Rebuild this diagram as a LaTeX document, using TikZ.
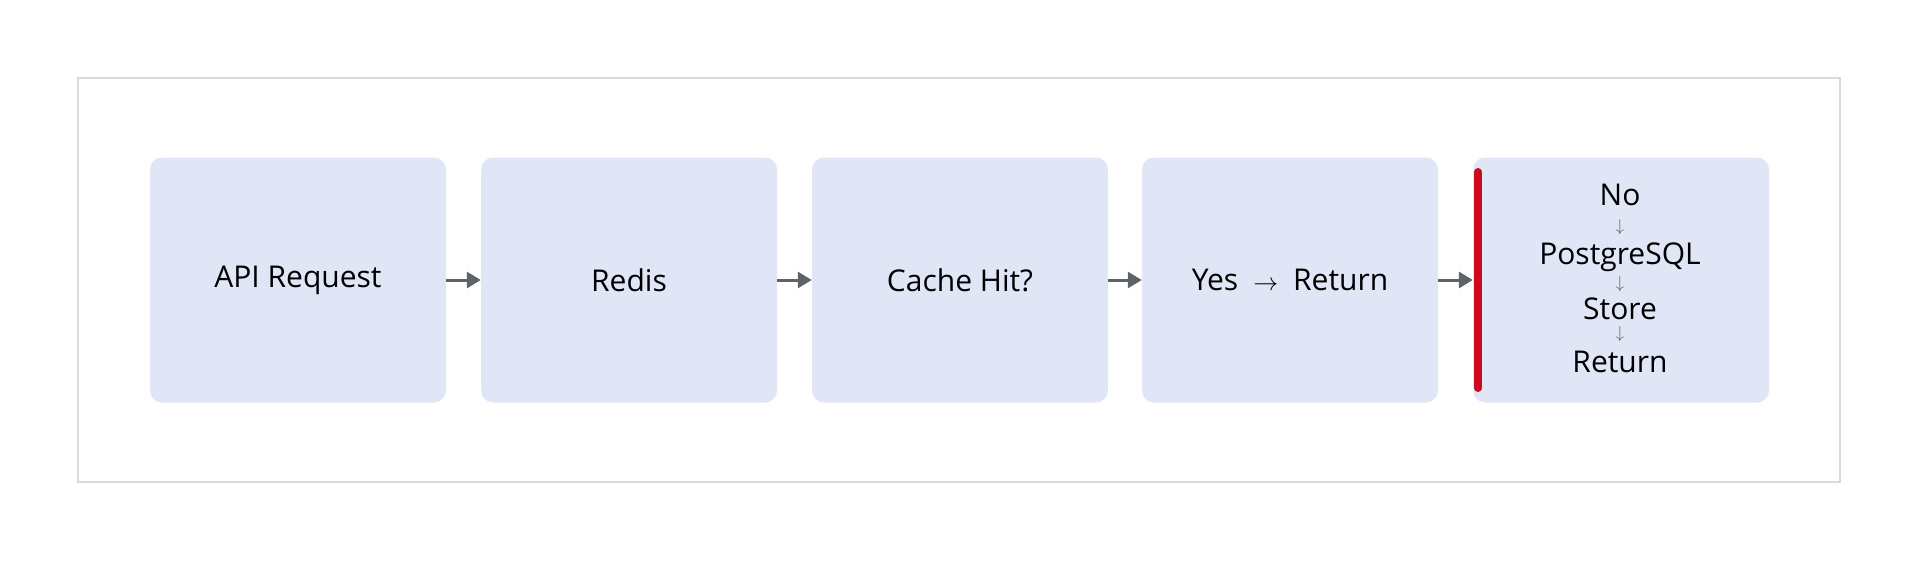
\documentclass[tikz,border=0pt]{standalone}
\usepackage{fontspec}
\setmainfont{Open Sans}
\usetikzlibrary{arrows.meta}
\definecolor{boxfill}{RGB}{224,230,246}
\definecolor{arrgray}{RGB}{95,99,104}
\definecolor{mred}{RGB}{204,12,28}
\definecolor{framegray}{RGB}{218,218,218}
\tikzset{
    stage/.style={rectangle, fill=boxfill, rounded corners=12pt, minimum width=296pt, minimum height=245pt, inner sep=0pt, font=\fontsize{30}{36}\selectfont},
    txt/.style={inner sep=0pt, font=\fontsize{30}{36}\selectfont},
    down/.style={inner sep=0pt, font=\fontsize{16}{16}\selectfont, text=arrgray},
    flow/.style={-{Triangle[length=14pt,width=16pt]}, arrgray, line width=3pt},
}
\begin{document}
\begin{tikzpicture}[x=1pt, y=-1pt]
    \useasboundingbox (0,0) rectangle (1920,560);
    \draw[framegray, line width=1.5pt] (78,78) rectangle (1840,482);
    \node[stage] (request) at (298,280) {API Request};
    \node[stage] (redis)   at (629,280) {Redis};
    \node[stage] (hit)     at (960,280) {Cache Hit?};
    \node[stage] (yes)     at (1290,280) {Yes\enspace$\rightarrow$\enspace Return};
    \node[stage] (no)      at (1621,280) {};
    \draw[mred, line width=8pt, line cap=round] (1478,172) -- (1478,388);
    % miss path, stacked
    \node[txt]  (nolbl)  at (1620,195) {No};
    \node[down] (d1)     at (1620,227) {$\downarrow$};
    \node[txt]  (pg)     at (1620,257) {PostgreSQL};
    \node[down] (d2)     at (1620,284) {$\downarrow$};
    \node[txt]  (store)  at (1620,309) {Store};
    \node[down] (d3)     at (1620,334) {$\downarrow$};
    \node[txt]  (ret)    at (1620,362) {Return};

    \draw[flow] (request) -- (redis);
    \draw[flow] (redis) -- (hit);
    \draw[flow] (hit) -- (yes);
    \draw[flow] (yes) -- (no);
\end{tikzpicture}
\end{document}
